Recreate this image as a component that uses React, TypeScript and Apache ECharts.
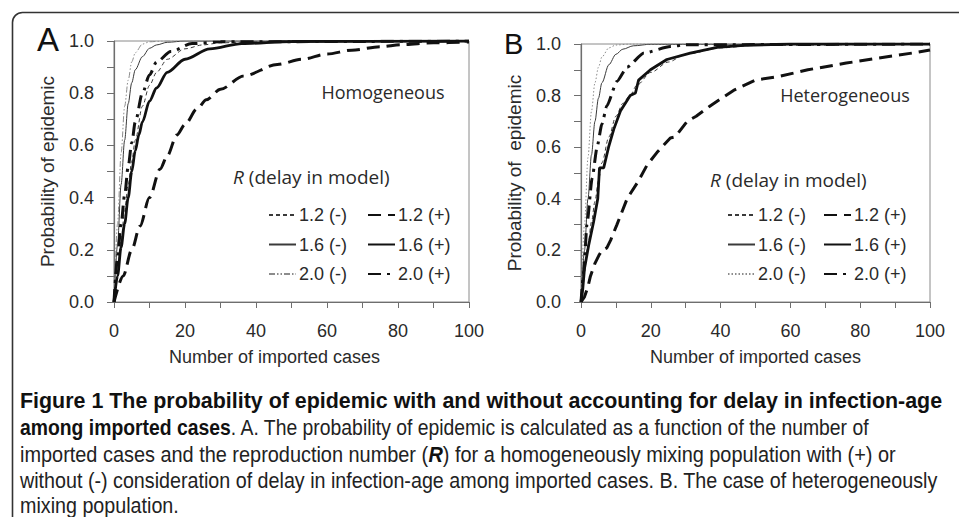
import React, { useEffect, useRef } from "react";
import * as echarts from "echarts";

// ---------- Panel A (homogeneous) ----------
const homX_12m = [0, 1, 2, 3, 4, 5, 6, 8, 10, 12, 15, 20, 25, 30, 40, 50, 100];
const homY_12m = [0, 0.12, 0.24, 0.35, 0.45, 0.54, 0.62, 0.75, 0.83, 0.88, 0.93, 0.97, 0.985, 0.993, 0.998, 1, 1];
const homX_16m = [0, 1, 2, 3, 4, 5, 6, 8, 10, 12, 15, 20, 100];
const homY_16m = [0, 0.22, 0.45, 0.62, 0.76, 0.84, 0.89, 0.94, 0.972, 0.985, 0.995, 1, 1];
const homX_20m = [0, 1, 2, 3, 4, 5, 6, 8, 10, 14, 100];
const homY_20m = [0, 0.3, 0.57, 0.75, 0.85, 0.92, 0.955, 0.988, 0.997, 1, 1];
const homX_12p = [0, 2.6, 5, 7.3, 10, 13, 15, 17.7, 20, 23.4, 26, 30, 36.5, 46, 53, 60, 67, 75, 81, 90, 100];
const homY_12p = [0, 0.1, 0.2, 0.29, 0.4, 0.51, 0.56, 0.64, 0.68, 0.74, 0.775, 0.815, 0.866, 0.91, 0.93, 0.95, 0.965, 0.978, 0.986, 0.993, 0.996];
const homX_16p = [0, 1, 2, 3, 4, 5, 6, 7, 8, 10, 12, 15, 20, 27, 36, 50, 100];
const homY_16p = [0, 0.1, 0.21, 0.3, 0.4, 0.5, 0.58, 0.64, 0.69, 0.77, 0.82, 0.88, 0.93, 0.97, 0.99, 0.998, 1];
const homX_20p = [0, 1, 2, 3, 4, 5, 6, 8, 10, 12, 16, 22, 30, 100];
const homY_20p = [0, 0.17, 0.3, 0.41, 0.52, 0.61, 0.69, 0.8, 0.87, 0.92, 0.96, 0.99, 0.997, 1];

// ---------- Panel B (heterogeneous) ----------
const hetX_12m = [0, 1, 2, 3, 4, 5, 6, 8, 10, 12, 14, 16, 20, 25, 30, 40, 50, 100];
const hetY_12m = [0, 0.12, 0.22, 0.31, 0.39, 0.47, 0.54, 0.64, 0.72, 0.77, 0.8, 0.84, 0.89, 0.93, 0.96, 0.985, 0.995, 1];
const hetX_16m = [0, 1, 2, 3, 4, 5, 6, 8, 10, 12, 15, 20, 100];
const hetY_16m = [0, 0.2, 0.4, 0.57, 0.7, 0.79, 0.85, 0.92, 0.96, 0.98, 0.993, 0.999, 1];
const hetX_20m = [0, 1, 2, 3, 4, 5, 6, 8, 10, 14, 100];
const hetY_20m = [0, 0.3, 0.56, 0.74, 0.85, 0.91, 0.95, 0.985, 0.996, 1, 1];
const hetX_12p = [0, 1, 2, 2.7, 4, 5.1, 6, 7.4, 8.5, 10.3, 13.2, 16.5, 18.9, 21.8, 25.6, 27, 30.4, 33, 37, 43.7, 50, 57, 65, 76, 85, 95, 100];
const hetY_12p = [0, 0.02, 0.06, 0.1, 0.15, 0.18, 0.2, 0.21, 0.24, 0.3, 0.4, 0.47, 0.53, 0.58, 0.636, 0.64, 0.7, 0.72, 0.76, 0.82, 0.86, 0.875, 0.9, 0.926, 0.945, 0.965, 0.977];
const hetX_16p = [0, 0.5, 1, 2.2, 3.6, 4.8, 5.3, 6.5, 7.9, 9.4, 11.3, 14.1, 15.6, 16.5, 19.9, 24.6, 31.3, 39, 46.6, 60, 100];
const hetY_16p = [0, 0.05, 0.13, 0.22, 0.31, 0.4, 0.52, 0.52, 0.6, 0.67, 0.74, 0.8, 0.81, 0.86, 0.9, 0.94, 0.965, 0.987, 0.995, 1, 1];
const hetX_20p = [0, 0.8, 1.7, 3.2, 4.6, 6, 7.4, 10.3, 13.2, 18, 25.6, 30, 100];
const hetY_20p = [0, 0.12, 0.3, 0.48, 0.6, 0.69, 0.76, 0.855, 0.91, 0.965, 0.99, 0.997, 1];

const legendMinus = ["1.2 (-)", "1.6 (-)", "2.0 (-)"];
const legendPlus = ["1.2 (+)", "1.6 (+)", "2.0 (+)"];

// caption segments: [style, text]
const captionSegs: [string, string][][] = [
  [["b", "Figure 1 The probability of epidemic with and without accounting for delay in infection-age"]],
  [["b", "among imported cases"], ["r", ". A. The probability of epidemic is calculated as a function of the number of"]],
  [["r", "imported cases and the reproduction number ("], ["bi", "R"], ["r", ") for a homogeneously mixing population with (+) or"]],
  [["r", "without (-) consideration of delay in infection-age among imported cases. B. The case of heterogeneously"]],
  [["r", "mixing population."]],
];

const FONT = "Liberation Sans, Arial, Helvetica, sans-serif";
const CAP_FONT = "Liberation Sans, Arial, sans-serif";
const SANS2 = "Open Sans, Noto Sans, sans-serif";

const zip = (xs: number[], ys: number[]) => xs.map((x, i) => [x, ys[i]]);

export default function App() {
  const ref = useRef<HTMLDivElement>(null);
  useEffect(() => {
    if (!ref.current) return;
    const chart = echarts.init(ref.current, undefined, { renderer: "svg" });

    const mkX = (gi: number, pad: number[]) => ({
      type: "value",
      gridIndex: gi,
      min: 0,
      max: 100,
      interval: 10,
      name: "Number of imported cases",
      nameLocation: "middle",
      nameGap: 46,
      nameTextStyle: { fontSize: 18, color: "#2a2a2a", fontFamily: FONT, padding: pad },
      axisLine: { lineStyle: { color: "#6e6e6e", width: 1.2 } },
      axisTick: { show: true, length: 6, lineStyle: { color: "#6e6e6e" } },
      axisLabel: {
        fontSize: 18,
        color: "#2a2a2a",
        fontFamily: FONT,
        margin: 20,
        showMinLabel: true,
        showMaxLabel: true,
        formatter: (v: number) => (Math.round(v) % 20 === 0 ? String(Math.round(v)) : ""),
      },
      splitLine: { show: false },
    });
    const mkY = (gi: number, name: string) => ({
      type: "value",
      gridIndex: gi,
      min: 0,
      max: 1,
      interval: 0.1,
      name,
      nameLocation: "middle",
      nameGap: 57,
      nameTextStyle: { fontSize: 19, color: "#2a2a2a", fontFamily: FONT },
      axisLine: { show: true, lineStyle: { color: "#6e6e6e", width: 1.2 } },
      axisTick: { show: true, length: 7, lineStyle: { color: "#6e6e6e" } },
      axisLabel: {
        fontSize: 18,
        color: "#2a2a2a",
        fontFamily: FONT,
        margin: 20,
        showMinLabel: true,
        showMaxLabel: true,
        formatter: (v: number) => (Math.round(v * 10) % 2 === 0 ? v.toFixed(1) : ""),
      },
      splitLine: { show: false },
    });

    const thinDark = "#3a3a3a";
    const thinGrey = "#8c8c8c";
    const thick = "#111111";

    const mkS = (name: string, gi: number, xs: number[], ys: number[], ls: any, smooth: boolean | number, z: number) => ({
      type: "line",
      name,
      xAxisIndex: gi,
      yAxisIndex: gi,
      data: zip(xs, ys),
      symbol: "none",
      smooth,
      smoothMonotone: "x",
      color: ls.color,
      itemStyle: { color: ls.color },
      lineStyle: ls,
      z,
      silent: true,
    });

    const styles = {
      m12: { color: thinDark, width: 1, type: [4, 3] },
      m16: { color: thinDark, width: 1, type: "solid" },
      m20A: { color: thinGrey, width: 1, type: [6, 2, 1.5, 2, 1.5, 2] },
      m20B: { color: thinGrey, width: 1, type: [1.5, 2] },
      p12: { color: thick, width: 3, type: [13, 7] },
      p16: { color: thick, width: 2.8, type: "solid" },
      p20: { color: thick, width: 3, type: [13, 6, 3, 6] },
    };

    const series = [
      mkS("A1.2 (-)", 0, homX_12m, homY_12m, styles.m12, 0.3, 2),
      mkS("A1.6 (-)", 0, homX_16m, homY_16m, styles.m16, 0.3, 2),
      mkS("A2.0 (-)", 0, homX_20m, homY_20m, styles.m20A, 0.3, 2),
      mkS("A1.2 (+)", 0, homX_12p, homY_12p, styles.p12, 0.3, 3),
      mkS("A1.6 (+)", 0, homX_16p, homY_16p, styles.p16, 0.3, 3),
      mkS("A2.0 (+)", 0, homX_20p, homY_20p, styles.p20, 0.3, 3),
      mkS("B1.2 (-)", 1, hetX_12m, hetY_12m, styles.m12, 0.3, 2),
      mkS("B1.6 (-)", 1, hetX_16m, hetY_16m, styles.m16, 0.3, 2),
      mkS("B2.0 (-)", 1, hetX_20m, hetY_20m, styles.m20B, 0.3, 2),
      mkS("B1.2 (+)", 1, hetX_12p, hetY_12p, styles.p12, false, 3),
      mkS("B1.6 (+)", 1, hetX_16p, hetY_16p, styles.p16, false, 3),
      mkS("B2.0 (+)", 1, hetX_20p, hetY_20p, styles.p20, 0.2, 3),
    ];

    const mkLegend = (prefix: string, names: string[], left: number) => ({
      data: names.map((n) => prefix + n),
      orient: "vertical",
      left,
      top: 200,
      itemWidth: 27,
      itemHeight: 14,
      itemGap: 9.5,
      selectedMode: false,
      itemStyle: { color: "rgba(0,0,0,0)", borderColor: "rgba(0,0,0,0)", borderWidth: 0 },
      formatter: (n: string) => n.slice(1),
      textStyle: { fontSize: 18, color: "#2a2a2a", fontFamily: FONT, lineHeight: 20, padding: [0, 0, 0, -2] },
    });

    const italicR = { fontStyle: "italic", fontSize: 19, fontFamily: SANS2, fill: "#2a2a2a" };

    // caption: condensed look via horizontal scaling of Liberation Sans to the reference line lengths
    const capSize = 22;
    const capStyles: Record<string, any> = {
      r: { fontSize: capSize, fontFamily: CAP_FONT, fill: "#222" },
      b: { fontSize: capSize, fontWeight: "bold", fontFamily: CAP_FONT, fill: "#111" },
      bi: { fontSize: capSize, fontWeight: "bold", fontStyle: "italic", fontFamily: CAP_FONT, fill: "#111" },
    };
    const cssFont: Record<string, string> = {
      r: `${capSize}px ${CAP_FONT}`,
      b: `bold ${capSize}px ${CAP_FONT}`,
      bi: `italic bold ${capSize}px ${CAP_FONT}`,
    };
    const capLeft = 20;
    const capEnds = [943, 870, 896, 938, 0];
    const capYs = [400, 427, 454, 480, 505];
    let ctx: CanvasRenderingContext2D | null = null;
    try {
      ctx = document.createElement("canvas").getContext("2d");
    } catch (e) {}
    const widths = captionSegs.map((segs) =>
      segs.reduce((acc, [k, t]) => {
        if (!ctx) return acc + t.length * capSize * 0.5;
        ctx.font = cssFont[k];
        return acc + ctx.measureText(t).width;
      }, 0)
    );
    const scales = capEnds.map((e, i) => (e > 0 ? (e - capLeft) / widths[i] : 0));
    scales[4] = scales[3];
    const captionGraphics = captionSegs.map((segs, i) => ({
      type: "text",
      x: capLeft,
      y: capYs[i],
      scaleX: scales[i],
      style: {
        text: segs.map(([k, t]) => `{${k}|${t}}`).join(""),
        verticalAlign: "middle",
        ...capStyles.r,
        rich: capStyles,
      },
    }));

    const option: any = {
      animation: false,
      backgroundColor: "#ffffff",
      grid: [
        { left: 114, top: 41, width: 355, height: 261, show: true, borderColor: "#8a8a8a", borderWidth: 1 },
        { left: 581, top: 44, width: 349, height: 258, show: true, borderColor: "#8a8a8a", borderWidth: 1 },
      ],
      xAxis: [mkX(0, [0, 34, 0, 0]), mkX(1, [0, 0, 0, 0])],
      yAxis: [mkY(0, "Probability of epidemic"), mkY(1, "Probability of  epidemic")],
      legend: [
        mkLegend("A", legendMinus, 263),
        mkLegend("A", legendPlus, 362),
        mkLegend("B", legendMinus, 722),
        mkLegend("B", legendPlus, 818),
      ],
      series,
      graphic: [
        {
          type: "rect",
          shape: { x: 12.5, y: 12.5, width: 1000, height: 600, r: 10 },
          style: { fill: "none", stroke: "#333", lineWidth: 1.6 },
          silent: true,
        },
        { type: "text", left: 37, top: 23, style: { text: "A", fontSize: 33, fontFamily: FONT, fill: "#111" } },
        { type: "text", left: 504, top: 29, style: { text: "B", fontSize: 29, fontFamily: FONT, fill: "#111" } },
        { type: "text", x: 383, y: 92, style: { text: "Homogeneous", fontSize: 18, fontFamily: SANS2, fill: "#2a2a2a", align: "center", verticalAlign: "middle" } },
        { type: "text", x: 845, y: 95, style: { text: "Heterogeneous", fontSize: 18, fontFamily: SANS2, fill: "#2a2a2a", align: "center", verticalAlign: "middle" } },
        {
          type: "text", x: 233, y: 177,
          style: {
            text: "{i|R}{n| (delay in model)}", verticalAlign: "middle",
            rich: { i: italicR, n: { fontSize: 19, fontFamily: SANS2, fill: "#2a2a2a" } },
          },
        },
        {
          type: "text", x: 710, y: 180,
          style: {
            text: "{i|R}{n| (delay in model)}", verticalAlign: "middle",
            rich: { i: italicR, n: { fontSize: 19, fontFamily: SANS2, fill: "#2a2a2a" } },
          },
        },
        ...captionGraphics,
      ],
    };
    chart.setOption(option);
    return () => chart.dispose();
  }, []);
  return <div ref={ref} style={{ position: "fixed", left: 0, top: 0, width: 959, height: 517, background: "#fff" }} />;
}
